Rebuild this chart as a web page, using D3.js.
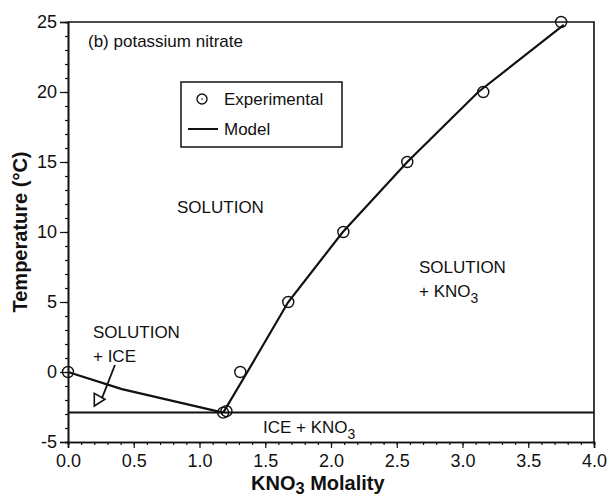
<!DOCTYPE html>
<html>
<head>
<meta charset="utf-8">
<script src="https://cdn.jsdelivr.net/npm/d3@7/dist/d3.min.js"></script>
<style>
  html, body { margin: 0; padding: 0; background: #fff; }
  svg { display: block; font-family: "Liberation Sans", Arial, Helvetica, sans-serif; }
</style>
</head>
<body>
<svg id="chart" width="610" height="499"></svg>
<script>
// KNO3 – water phase diagram: freezing and solubility curves

// Experimental points (molality, °C)
const expMolality = [0.0, 1.18, 1.205, 1.31, 1.675, 2.094, 2.58, 3.158, 3.75];
const expTemp     = [0.0, -2.9, -2.8, 0.0, 5.0, 10.0, 15.0, 20.0, 25.0];

// Model: ice branch and KNO3 solubility branch
const iceMolality = [0.0, 0.41, 1.18];
const iceTemp     = [0.0, -1.22, -2.9];
const saltMolality = [1.18, 1.364, 1.675, 2.09, 2.58, 3.12, 3.77];
const saltTemp     = [-2.9, 0.0, 5.0, 10.0, 15.0, 20.0, 24.8];

// Eutectic temperature
const eutecticTemp = -2.9;

// Axis ticks
const xTicks = [0.0, 0.5, 1.0, 1.5, 2.0, 2.5, 3.0, 3.5, 4.0];
const yTicks = [-5, 0, 5, 10, 15, 20, 25];

const svg = d3.select("#chart");
const m = { left: 68, right: 16, top: 22, bottom: 57 };
const W = 610, H = 499;

const x = d3.scaleLinear().domain([0, 4]).range([m.left, W - m.right]);
const y = d3.scaleLinear().domain([-5, 25]).range([H - m.bottom, m.top]);

const ink = "#111";

// Frame (top and right)
svg.append("path")
  .attr("d", `M${x(0)},${y(25)}H${x(4)}V${y(-5)}`)
  .attr("fill", "none").attr("stroke", ink).attr("stroke-width", 1.6);

// X axis
const xAxis = svg.append("g").attr("transform", `translate(0,${y(-5)})`);
xAxis.call(d3.axisBottom(x).tickValues(d3.range(0, 4.0001, 0.1)).tickSize(3).tickFormat(""));
xAxis.call(g => g.append("g").call(d3.axisBottom(x).tickValues(xTicks).tickSize(6).tickPadding(6).tickFormat(d => d.toFixed(1))));
xAxis.selectAll("path.domain").attr("stroke", ink).attr("stroke-width", 1.6);
xAxis.selectAll("line").attr("stroke", ink).attr("stroke-width", 1.2);
xAxis.selectAll("text").attr("fill", ink).attr("font-size", 18).attr("font-family", "Liberation Sans, Arial, sans-serif");

// Y axis (plain hyphen for negatives)
const yAxis = svg.append("g").attr("transform", `translate(${x(0)},0)`);
yAxis.call(d3.axisLeft(y).tickValues(d3.range(-5, 25.001, 1)).tickSize(3).tickFormat(""));
yAxis.call(g => g.append("g").call(d3.axisLeft(y).tickValues(yTicks).tickSize(8).tickPadding(3).tickFormat(d => String(d))));
yAxis.selectAll("path.domain").attr("stroke", ink).attr("stroke-width", 1.6);
yAxis.selectAll("line").attr("stroke", ink).attr("stroke-width", 1.2);
yAxis.selectAll("text").attr("fill", ink).attr("font-size", 18).attr("font-family", "Liberation Sans, Arial, sans-serif");

// Eutectic line
svg.append("line")
  .attr("x1", x(0)).attr("x2", x(4))
  .attr("y1", y(eutecticTemp)).attr("y2", y(eutecticTemp))
  .attr("stroke", ink).attr("stroke-width", 2);

// Model curves
const line = d3.line().x(d => x(d[0])).y(d => y(d[1]));
svg.append("path")
  .datum(d3.zip(iceMolality, iceTemp))
  .attr("d", line).attr("fill", "none").attr("stroke", ink).attr("stroke-width", 2.2);
svg.append("path")
  .datum(d3.zip(saltMolality, saltTemp))
  .attr("d", line).attr("fill", "none").attr("stroke", ink).attr("stroke-width", 2.2);

// Experimental markers
svg.append("g").selectAll("circle")
  .data(d3.zip(expMolality, expTemp))
  .join("circle")
  .attr("cx", d => x(d[0])).attr("cy", d => y(d[1])).attr("r", 5.5)
  .attr("fill", "none").attr("stroke", ink).attr("stroke-width", 1.4);

// Legend
const lg = svg.append("g");
lg.append("rect").attr("x", 181).attr("y", 82).attr("width", 161).attr("height", 65)
  .attr("fill", "#fff").attr("stroke", ink).attr("stroke-width", 1.5);
lg.append("circle").attr("cx", 202).attr("cy", 99).attr("r", 5)
  .attr("fill", "none").attr("stroke", ink).attr("stroke-width", 1.4);
lg.append("circle").attr("cx", 202).attr("cy", 99).attr("r", 0.8).attr("fill", ink);
lg.append("line").attr("x1", 188).attr("x2", 218).attr("y1", 129).attr("y2", 129)
  .attr("stroke", ink).attr("stroke-width", 2);
lg.append("text").attr("x", 224).attr("y", 105).attr("font-size", 17).attr("fill", ink).text("Experimental");
lg.append("text").attr("x", 224).attr("y", 135).attr("font-size", 17).attr("fill", ink).text("Model");

// Region labels
const lab = (px, py, txt) => svg.append("text").attr("x", px).attr("y", py)
  .attr("font-size", 17).attr("fill", ink).text(txt);
lab(88, 47, "(b) potassium nitrate");
lab(177, 213, "SOLUTION");
lab(93, 338, "SOLUTION");
lab(93, 362, "+ ICE");
lab(419, 273, "SOLUTION");

const sub = (px, py, main, subTxt, after, size, weight, drop) => {
  const t = svg.append("text").attr("x", px).attr("y", py)
    .attr("font-size", size).attr("font-weight", weight).attr("fill", ink);
  t.append("tspan").text(main);
  t.append("tspan").attr("dy", size * drop).attr("font-size", size * 0.82).text(subTxt);
  if (after) t.append("tspan").attr("dy", -size * drop).text(after);
  return t;
};
sub(419, 297, "+ KNO", "3", null, 17, "normal", 0.38);
sub(263, 433, "ICE + KNO", "3", null, 17, "normal", 0.38);

// Arrow pointing into the ice field
svg.append("line")
  .attr("x1", x(0.357)).attr("y1", y(0.5)).attr("x2", x(0.26)).attr("y2", y(-1.83))
  .attr("stroke", ink).attr("stroke-width", 1.8);
svg.append("path")
  .attr("d", d3.line()([[x(0.2), y(-1.52)], [x(0.2), y(-2.43)], [x(0.281), y(-1.95)]]) + "Z")
  .attr("fill", "#fff").attr("stroke", ink).attr("stroke-width", 1.6);

// Axis titles
sub(251, 490, "KNO", "3", " Molality", 20, "bold", 0.2);
svg.append("text")
  .attr("transform", `translate(27,${(y(25) + y(-5)) / 2}) rotate(-90)`)
  .attr("text-anchor", "middle").attr("font-size", 20).attr("font-weight", "bold").attr("fill", ink)
  .text("Temperature (°C)");
</script>
</body>
</html>
